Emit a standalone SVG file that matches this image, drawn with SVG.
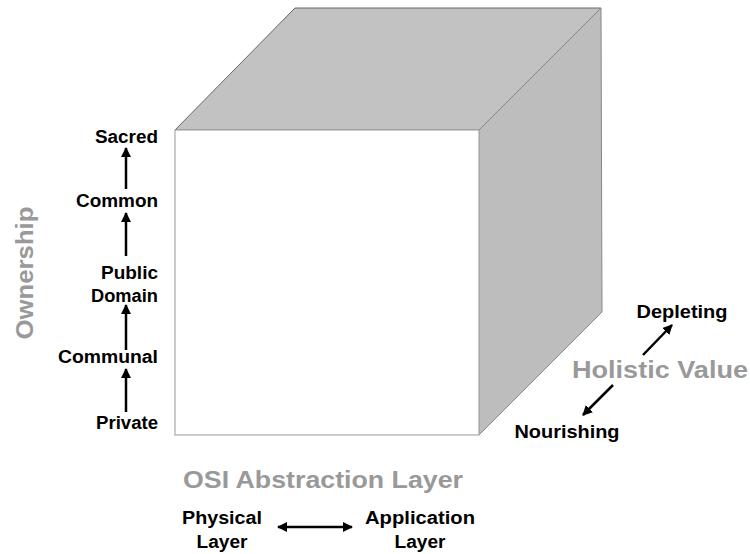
<svg xmlns="http://www.w3.org/2000/svg" width="750" height="554" viewBox="0 0 750 554">
<defs>
<marker id="ah" viewBox="0 0 10 10" refX="9" refY="5" markerWidth="10" markerHeight="10" markerUnits="userSpaceOnUse" orient="auto-start-reverse">
<path d="M0,0 L10,5 L0,10 z" fill="#000"/>
</marker>
<style>
.lbl{font-family:"Liberation Sans",Arial,sans-serif;font-weight:bold;font-size:18px;fill:#000}
.ttl{font-family:"Liberation Sans",Arial,sans-serif;font-weight:bold;font-size:24px;fill:#999}
.arr{stroke:#000;stroke-width:2.5;fill:none;marker-end:url(#ah)}
.arr2{stroke:#000;stroke-width:2.5;fill:none;marker-end:url(#ah);marker-start:url(#ah)}
</style>
</defs>
<rect width="750" height="554" fill="#fff"/>
<g id="cube">
<polygon points="175,130 295,8 601,8 479,130" fill="#c2c2c2" stroke="#666" stroke-width="1"/>
<polygon points="479,130 601,8 602,312 479,435" fill="#bdbdbd" stroke="#888" stroke-width="1"/>
<rect x="175" y="130" width="304" height="305" fill="#fff" stroke="#aaa" stroke-width="1.2"/>
</g>
<g id="ownership">
<text class="ttl" transform="translate(33,273) rotate(-90)" text-anchor="middle" font-size="25" textLength="133" lengthAdjust="spacingAndGlyphs">Ownership</text>
</g>
<g id="sacred"><text class="lbl" x="158" y="143" text-anchor="end" textLength="63" lengthAdjust="spacingAndGlyphs">Sacred</text></g>
<g id="common"><text class="lbl" x="158" y="207" text-anchor="end" textLength="82" lengthAdjust="spacingAndGlyphs">Common</text></g>
<g id="public-domain">
<text class="lbl" x="158" y="279" text-anchor="end" textLength="57" lengthAdjust="spacingAndGlyphs">Public</text>
<text class="lbl" x="158" y="302" text-anchor="end" textLength="67" lengthAdjust="spacingAndGlyphs">Domain</text>
</g>
<g id="communal"><text class="lbl" x="158" y="363" text-anchor="end" textLength="100" lengthAdjust="spacingAndGlyphs">Communal</text></g>
<g id="private"><text class="lbl" x="158" y="429" text-anchor="end" textLength="62" lengthAdjust="spacingAndGlyphs">Private</text></g>
<g id="osi">
<text class="ttl" x="323" y="488" text-anchor="middle" textLength="280" lengthAdjust="spacingAndGlyphs">OSI Abstraction Layer</text>
</g>
<g id="physical">
<text class="lbl" x="222" y="524" text-anchor="middle" textLength="80" lengthAdjust="spacingAndGlyphs">Physical</text>
<text class="lbl" x="222" y="548" text-anchor="middle" textLength="51" lengthAdjust="spacingAndGlyphs">Layer</text>
</g>
<g id="application">
<text class="lbl" x="420" y="524" text-anchor="middle" textLength="110" lengthAdjust="spacingAndGlyphs">Application</text>
<text class="lbl" x="420" y="548" text-anchor="middle" textLength="51" lengthAdjust="spacingAndGlyphs">Layer</text>
</g>
<g id="holistic">
<text class="ttl" x="748" y="378" text-anchor="end" textLength="176" lengthAdjust="spacingAndGlyphs">Holistic Value</text>
</g>
<g id="depleting"><text class="lbl" x="682" y="318" text-anchor="middle" textLength="91" lengthAdjust="spacingAndGlyphs">Depleting</text></g>
<g id="nourishing"><text class="lbl" x="567" y="438" text-anchor="middle" textLength="105" lengthAdjust="spacingAndGlyphs">Nourishing</text></g>
<g id="connectors">
<line class="arr" x1="126" y1="189" x2="126" y2="148"/>
<line class="arr" x1="126" y1="256" x2="126" y2="213"/>
<line class="arr" x1="126" y1="350" x2="126" y2="305"/>
<line class="arr" x1="126" y1="412" x2="126" y2="369"/>
<line class="arr2" x1="278" y1="527" x2="352" y2="527"/>
<line class="arr" x1="643" y1="355" x2="672" y2="325"/>
<line class="arr" x1="613" y1="385" x2="583" y2="415"/>
</g>
</svg>
